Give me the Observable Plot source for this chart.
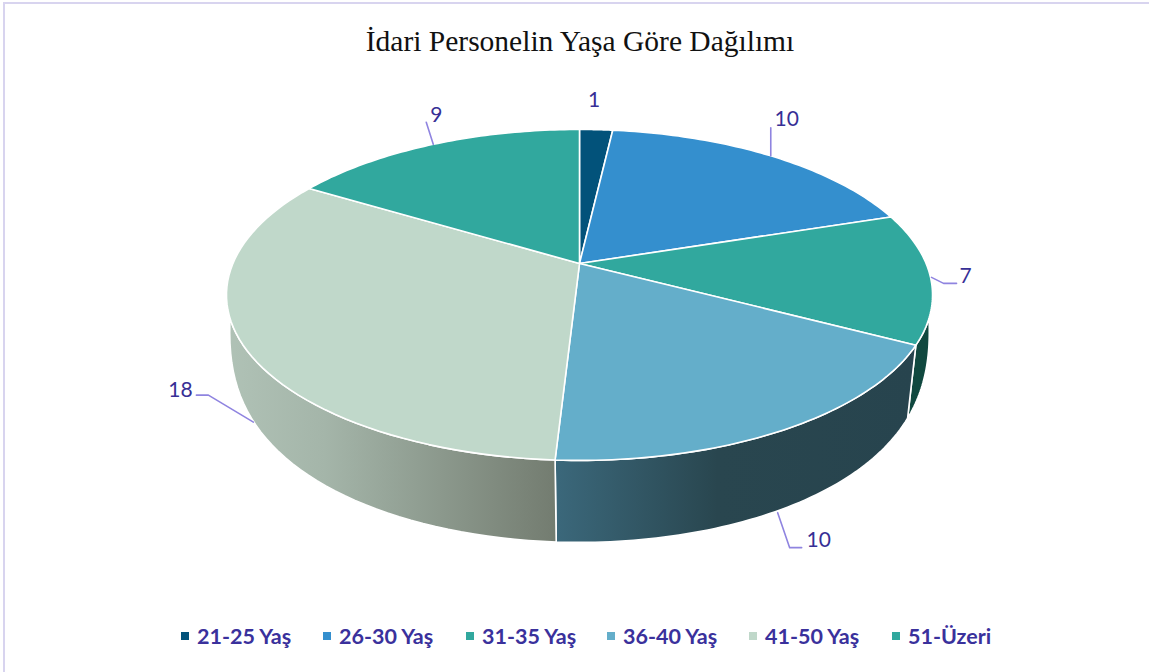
<!DOCTYPE html>
<html lang="tr">
<head>
<meta charset="utf-8">
<title>İdari Personelin Yaşa Göre Dağılımı</title>
<script src="https://cdn.jsdelivr.net/npm/d3@7"></script>
<script src="https://cdn.jsdelivr.net/npm/@observablehq/plot@0.6"></script>
<style>
  html, body { margin: 0; padding: 0; background: #fff; }
  #frame { position: relative; width: 1149px; height: 672px; overflow: hidden; box-sizing: border-box; }
  #frame::before { content: ""; position: absolute; left: 3px; top: 2px; right: 0; bottom: 0; border-left: 2px solid #d8d4ef; border-top: 2px solid #d8d4ef; pointer-events: none; }
  h1 { margin: 0; position: absolute; top: 24px; left: 0; width: 1160px; text-align: center; font: 400 29.5px/34px "Liberation Serif", serif; color: #111; }
  #plot { position: absolute; left: 0; top: 70px; }
  #plot svg { display: block; }
  #legend { position: absolute; left: 181px; top: 623px; height: 26px; font: 700 21.5px/26px Lato, sans-serif; color: #3a319c; }
  #legend span { position: absolute; top: 0; white-space: nowrap; }
  #legend i { position: absolute; top: 9px; width: 8px; height: 8px; }
</style>
</head>
<body>
<div id="frame">
  <h1>İdari Personelin Yaşa Göre Dağılımı</h1>
  <div id="plot"></div>
  <div id="legend"></div>
</div>
<script>
const categories = ["21-25 Yaş", "26-30 Yaş", "31-35 Yaş", "36-40 Yaş", "41-50 Yaş", "51-Üzeri"];
const values = [1, 10, 7, 10, 18, 9];
const topColors = ["#02527a", "#348fce", "#31a89e", "#64aeca", "#c0d8ca", "#31a89e"];
const wallColors = ["#01324a", "#1d5578", "#10483f", "url(#wall3)", "url(#wall4)", "#1c5f59"];
const legendLeft = [0, 142, 285, 426, 568, 711];

// projection of the pie disc: perspective foreshortening towards the back, and a lower rim
const persp = 0.19, wallDepth = 82, wallDrift = 20;
const cx = 579, cy = 193, rx = 346.6, ry = 159.5;
const width = 1149, height = 540;

const total = d3.sum(values);
const cum = d3.cumsum(values);
const angle = (share) => (share / total) * 2 * Math.PI;
const rimTop = (t) => { const u = Math.sin(t), v = -Math.cos(t), D = 1 - persp * v; return {x: u / D, y: v / D}; };
const rimLow = (t) => {
  const p = rimTop(t), u = Math.sin(t), v = -Math.cos(t), f = v > 0 ? Math.sqrt(1 - Math.pow(1 - v, 2.5)) : 0;
  return {x: p.x - (wallDrift * u * Math.max(v, 0)) / rx, y: p.y + (wallDepth * f) / ry};
};
const arc = (a0, a1, rim) => d3.range(0, 61).map((i) => rim(a0 + (a1 - a0) * i / 60));

const slices = values.map((v, i) => ({
  category: categories[i],
  value: v,
  a0: angle(i ? cum[i - 1] : 0),
  a1: angle(cum[i]),
  top: topColors[i],
  wall: wallColors[i]
}));

const stroke = {stroke: "#fff", strokeWidth: 1.6, strokeLinejoin: "round", curve: "linear-closed"};
const walls = slices.map((s) => Plot.line(
  [...arc(s.a0, s.a1, rimTop), ...arc(s.a0, s.a1, rimLow).reverse()],
  {x: "x", y: "y", fill: s.wall, ...stroke}));
const tops = slices.map((s) => Plot.line(
  [{x: 0, y: 0}, ...arc(s.a0, s.a1, rimTop)],
  {x: "x", y: "y", fill: s.top, ...stroke}));

// leader and label placement, in pixels relative to each slice's mid-rim anchor
const anchorRim = [rimTop, rimTop, rimTop, rimLow, rimLow, rimTop];
const leaderOffsets = [
  [],
  [[0, 0], [0, -28]],
  [[1, 0], [13, 6], [26, 6]],
  [[2.5, 1], [14.5, 36], [26.5, 36]],
  [[2, 4], [-43, -23], [-55, -23]],
  [[0, 0], [-7, -22]]
];
const labelOffsets = [[-2, -29], [16, -37], [35, -1], [43.5, 29], [-71, -28], [3, -29]];
const anchors = slices.map((s, i) => anchorRim[i]((s.a0 + s.a1) / 2));
const leaders = leaderOffsets.map((pts, i) =>
  Plot.line(pts.map(([dx, dy]) => ({x: anchors[i].x + dx / rx, y: anchors[i].y + dy / ry})),
    {x: "x", y: "y", stroke: "#8f84e0", strokeWidth: 1.6}));
const labels = slices.map((s, i) => ({
  x: anchors[i].x + labelOffsets[i][0] / rx,
  y: anchors[i].y + labelOffsets[i][1] / ry,
  text: String(s.value)
}));

const chart = Plot.plot({
  width, height,
  margin: 0,
  style: {background: "transparent"},
  x: {domain: [-1, 1], range: [cx - rx, cx + rx], axis: null},
  y: {domain: [-1, 1], range: [cy - ry, cy + ry], axis: null},
  marks: [
    ...walls,
    ...tops,
    ...leaders,
    Plot.text(labels, {x: "x", y: "y", text: "text", fill: "#372f96", fontSize: 21, fontFamily: "Lato, sans-serif", textAnchor: "middle"})
  ]
});

const defs = d3.select(chart).insert("defs", ":first-child");
const gradient = (id, stops) => {
  const g = defs.append("linearGradient").attr("id", id).attr("x1", 0).attr("x2", 1).attr("y1", 0).attr("y2", 0);
  stops.forEach(([o, c]) => g.append("stop").attr("offset", o).attr("stop-color", c));
};
gradient("wall3", [[0, "#3b687b"], [0.45, "#29464f"], [1, "#27444e"]]);
gradient("wall4", [[0, "#b0c2b6"], [0.3, "#a4b5a9"], [1, "#737c70"]]);

document.getElementById("plot").append(chart);

const legend = d3.select("#legend");
categories.forEach((c, i) => {
  legend.append("i").style("left", legendLeft[i] + "px").style("background", topColors[i]);
  legend.append("span").style("left", legendLeft[i] + 16 + "px").text(c);
});
</script>
</body>
</html>
